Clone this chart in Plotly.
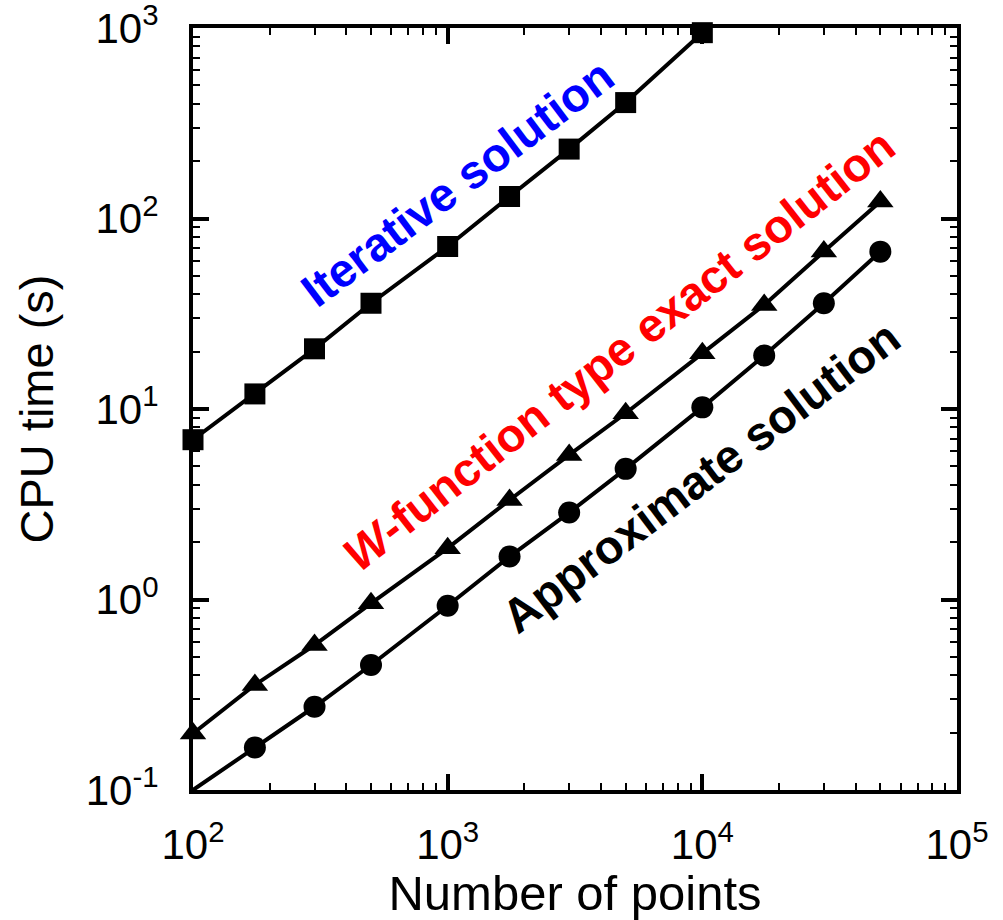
import plotly.graph_objects as go

# ---- data ----
iter_x = [100, 175, 300, 500, 1000, 1750, 3000, 5000, 10000]
iter_y = [6.9, 12.0, 20.7, 35.9, 71.3, 130.5, 231.4, 406, 945]

wfun_x = [100, 175, 300, 500, 1000, 1750, 3000, 5000, 10000, 17500, 30000, 50000]
wfun_y = [0.198, 0.356, 0.577, 0.955, 1.86, 3.33, 5.74, 9.5, 19.6, 35.2, 67.1, 122.8]

appr_x = [100, 175, 300, 500, 1000, 1750, 3000, 5000, 10000, 17500, 30000, 50000]
appr_y = [0.1, 0.167, 0.2735, 0.453, 0.927, 1.68, 2.86, 4.85, 10.2, 19.1, 35.9, 67.0]

x_tickvals = [1e2, 1e3, 1e4, 1e5]
x_ticktext = ["10<sup>2</sup>", "10<sup>3</sup>", "10<sup>4</sup>", "10<sup>5</sup>"]
y_tickvals = [1e-1, 1e0, 1e1, 1e2, 1e3]
y_ticktext = ["10<sup>-1</sup>", "10<sup>0</sup>", "10<sup>1</sup>", "10<sup>2</sup>", "10<sup>3</sup>"]

FONT = "Liberation Sans, Arial, sans-serif"

fig = go.Figure()

line_style = dict(color="black", width=4)

fig.add_trace(go.Scatter(x=iter_x, y=iter_y, mode="lines+markers",
                         line=line_style, cliponaxis=False,
                         marker=dict(symbol="square", size=21, color="black", opacity=1),
                         showlegend=False))
fig.add_trace(go.Scatter(x=wfun_x, y=wfun_y, mode="lines+markers",
                         line=line_style, cliponaxis=False,
                         marker=dict(symbol="triangle-up", size=23, color="black", opacity=1),
                         showlegend=False))
appr_sizes = [0] + [22] * (len(appr_x) - 1)
fig.add_trace(go.Scatter(x=appr_x, y=appr_y, mode="lines+markers",
                         line=line_style, cliponaxis=False,
                         marker=dict(symbol="circle", size=appr_sizes, color="black",
                                     opacity=1, line=dict(width=0)),
                         showlegend=False))

def minor_vals(lo, hi):
    vals = []
    for e in range(lo, hi):
        for m in range(2, 10):
            vals.append(m * 10 ** e)
    return vals

axis_common = dict(
    type="log",
    showgrid=False,
    zeroline=False,
    showline=True,
    linecolor="black",
    linewidth=4,
    mirror="allticks",
    ticks="inside",
    ticklen=16,
    tickwidth=4,
    tickcolor="black",
    ticklabeloverflow="allow",
    tickfont=dict(family=FONT, size=42, color="black"),
)

fig.update_xaxes(
    **axis_common,
    range=[2, 5],
    tickmode="array", tickvals=x_tickvals, ticktext=x_ticktext,
    minor=dict(tickmode="array", tickvals=minor_vals(2, 5), ticks="inside",
               ticklen=7, tickwidth=1.5, tickcolor="black", showgrid=False),
    title=dict(text="Number of points", font=dict(family=FONT, size=49, color="black"),
               standoff=2),
    ticklabelstandoff=15,
)
fig.update_yaxes(
    **axis_common,
    range=[-1, 3],
    tickmode="array", tickvals=y_tickvals, ticktext=y_ticktext,
    minor=dict(tickmode="array", tickvals=minor_vals(-1, 3), ticks="inside",
               ticklen=7, tickwidth=1.5, tickcolor="black", showgrid=False),
    title=dict(text="CPU time (s)", font=dict(family=FONT, size=47, color="black"),
               standoff=18),
    ticklabelstandoff=22,
)

ann_font = dict(family=FONT, size=47)
fig.add_annotation(x=3.038, y=2.19, xref="x", yref="y", text="<b>Iterative solution</b>",
                   showarrow=False, textangle=-37, font=dict(**ann_font, color="#0000FF"))
fig.add_annotation(x=3.673, y=1.31, xref="x", yref="y",
                   text="<b><i>W</i>-function type exact solution</b>",
                   showarrow=False, textangle=-38, font=dict(**ann_font, color="#FF0000"))
fig.add_annotation(x=3.994, y=0.647, xref="x", yref="y", text="<b>Approximate solution</b>",
                   showarrow=False, textangle=-37, font=dict(**ann_font, color="black"))

fig.update_layout(
    width=1003, height=920,
    margin=dict(l=193, r=46, t=28, b=130, autoexpand=False),
    plot_bgcolor="white", paper_bgcolor="white",
    font=dict(family=FONT, color="black"),
)

fig.write_html("out.html")
